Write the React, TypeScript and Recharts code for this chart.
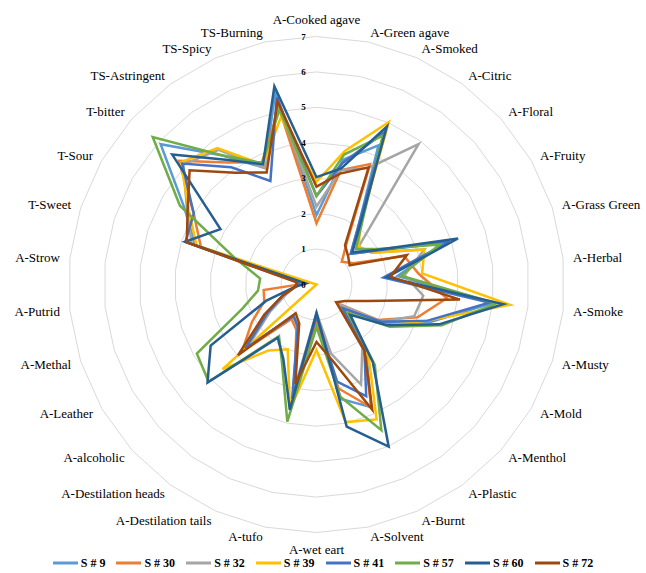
import React from 'react';
import {
  RadarChart,
  Radar,
  PolarGrid,
  PolarAngleAxis,
  PolarRadiusAxis,
  Legend,
} from 'recharts';

// Sensory attributes, clockwise from the top
const categories = [
  'A-Cooked agave', 'A-Green agave', 'A-Smoked', 'A-Citric', 'A-Floral', 'A-Fruity',
  'A-Grass Green', 'A-Herbal', 'A-Smoke', 'A-Musty', 'A-Mold', 'A-Menthol',
  'A-Plastic', 'A-Burnt', 'A-Solvent', 'A-wet eart', 'A-tufo', 'A-Destilation tails',
  'A-Destilation heads', 'A-alcoholic', 'A-Leather', 'A-Methal', 'A-Putrid', 'A-Strow',
  'T-Sweet', 'T-Sour', 'T-bitter', 'TS-Astringent', 'TS-Spicy', 'TS-Burning',
];

const s9 = [1.96, 3.6, 4.3, 2.0, 1.3, 1.9, 3.8, 2.3, 5.0, 3.4, 2.2, 1.0, 2.4, 3.79, 3.3, 0.9, 3.2, 1.3, 1.1, 2.7, 1.6, 1.0, 0.6, 0.5, 3.6, 4.3, 5.92, 4.5, 3.6, 5.57];
const s30 = [1.73, 3.3, 3.72, 1.45, 0.96, 1.2, 2.6, 2.9, 3.7, 3.0, 2.0, 0.78, 2.3, 3.8, 3.0, 1.1, 3.0, 1.4, 1.2, 2.84, 2.1, 1.55, 1.5, 0.3, 3.43, 4.0, 5.22, 4.26, 3.78, 5.1];
const s32 = [2.2, 3.3, 3.6, 4.9, 1.6, 1.8, 3.2, 2.5, 3.03, 2.9, 2.1, 0.8, 2.2, 3.09, 2.0, 0.8, 3.1, 1.3, 1.1, 2.6, 1.5, 0.9, 0.6, 0.5, 3.7, 4.22, 5.06, 4.7, 3.6, 5.2];
const s39 = [2.9, 3.85, 5.02, 2.1, 1.6, 1.8, 3.2, 3.0, 5.49, 3.3, 2.3, 1.1, 2.5, 4.17, 3.97, 1.85, 3.6, 2.0, 2.3, 3.57, 0, 0, 0, 0, 3.56, 4.16, 5.15, 4.76, 3.7, 4.83];
const s41 = [2.5, 3.5, 4.7, 2.0, 1.3, 1.9, 3.95, 1.9, 4.9, 3.3, 2.1, 1.0, 2.3, 3.45, 2.8, 0.9, 3.3, 1.3, 1.1, 2.7, 1.6, 1.0, 0.6, 0.5, 3.89, 4.0, 5.1, 4.09, 3.2, 5.4];
const s57 = [2.5, 3.75, 4.6, 2.2, 1.5, 2.0, 3.66, 2.4, 5.11, 3.72, 2.39, 1.2, 2.8, 4.5, 3.24, 1.2, 3.96, 2.4, 1.8, 4.1, 3.9, 2.2, 1.66, 1.6, 2.43, 4.45, 6.22, 4.5, 3.75, 5.04];
const s60 = [3.03, 3.35, 4.88, 2.1, 1.36, 1.95, 4.2, 2.0, 5.3, 3.64, 2.3, 1.28, 2.7, 5.01, 4.1, 0.8, 3.62, 2.3, 1.86, 4.14, 3.45, 1.5, 0.6, 0.3, 3.9, 3.13, 5.48, 4.35, 3.71, 5.72];
const s72 = [2.76, 3.2, 3.62, 1.37, 1.2, 1.08, 2.68, 2.1, 4.07, 1.5, 0.93, 0.75, 2.3, 3.87, 2.2, 1.62, 2.87, 1.2, 1.0, 2.98, 1.7, 1.0, 0.6, 0.56, 3.85, 4.2, 4.82, 3.9, 3.46, 5.28];

const series = [
  { key: 's9', name: 'S # 9', color: '#5B9BD5', values: s9 },
  { key: 's30', name: 'S # 30', color: '#ED7D31', values: s30 },
  { key: 's32', name: 'S # 32', color: '#A5A5A5', values: s32 },
  { key: 's39', name: 'S # 39', color: '#FFC000', values: s39 },
  { key: 's41', name: 'S # 41', color: '#4472C4', values: s41 },
  { key: 's57', name: 'S # 57', color: '#70AD47', values: s57 },
  { key: 's60', name: 'S # 60', color: '#255E91', values: s60 },
  { key: 's72', name: 'S # 72', color: '#9E480E', values: s72 },
];

const data = categories.map((category, i) => {
  const row: any = { category };
  series.forEach((s) => {
    row[s.key] = s.values[i];
  });
  return row;
});

const FONT = 'Liberation Serif';

const AngleTick = (props: any) => {
  const { x, y, payload } = props;
  const rad = (payload.coordinate * Math.PI) / 180;
  const dx = Math.cos(rad);
  const dy = -Math.sin(rad);
  const anchor = dx > 0.05 ? 'start' : dx < -0.05 ? 'end' : 'middle';
  const shift = anchor === 'middle' ? dy * 9 : dy * 2;
  return (
    <text
      x={x + dx * 2}
      y={y + shift}
      textAnchor={anchor}
      dominantBaseline="central"
      style={{ fontFamily: FONT, fontSize: 13, fill: '#000' }}
    >
      {payload.value}
    </text>
  );
};

const RadiusTick = (props: any) => {
  const { x, y, payload } = props;
  return (
    <text
      x={x - 13}
      y={y}
      textAnchor="middle"
      dominantBaseline="central"
      style={{ fontFamily: FONT, fontSize: 9, fontWeight: 'bold', fill: '#000' }}
    >
      {payload.value}
    </text>
  );
};

const renderLegend = () => (
  <div style={{ display: 'flex', justifyContent: 'center', gap: 11, fontFamily: FONT }}>
    {series.map((s) => (
      <div key={s.key} style={{ display: 'flex', alignItems: 'center' }}>
        <svg width={25} height={4} style={{ marginRight: 3 }}>
          <line x1={0} y1={2} x2={25} y2={2} stroke={s.color} strokeWidth={3} />
        </svg>
        <span style={{ fontSize: 12, fontWeight: 'bold', color: '#000', lineHeight: '14px' }}>{s.name}</span>
      </div>
    ))}
  </div>
);

export default function App() {
  return (
    <div style={{ position: 'absolute', left: 0, top: 0, width: 646, height: 573, background: '#fff' }}>
      <RadarChart
        width={646}
        height={573}
        data={data}
        cx={316.5}
        cy={284.5}
        outerRadius={248}
        startAngle={90}
        endAngle={-270}
      >
        <PolarGrid gridType="polygon" radialLines={false} stroke="#D9D9D9" />
        <PolarAngleAxis dataKey="category" tick={AngleTick} tickLine={false} axisLine={false} />
        <PolarRadiusAxis
          angle={90}
          type="number"
          domain={[0, 7]}
          tickCount={8}
          axisLine={false}
          tick={RadiusTick}
        />
        {series.map((s) => (
          <Radar
            key={s.key}
            dataKey={s.key}
            name={s.name}
            stroke={s.color}
            strokeWidth={2.5}
            fill="none"
            fillOpacity={0}
            dot={false}
            isAnimationActive={false}
          />
        ))}
        <Legend content={renderLegend} wrapperStyle={{ top: 556, left: 0, width: 646 }} />
      </RadarChart>
    </div>
  );
}
